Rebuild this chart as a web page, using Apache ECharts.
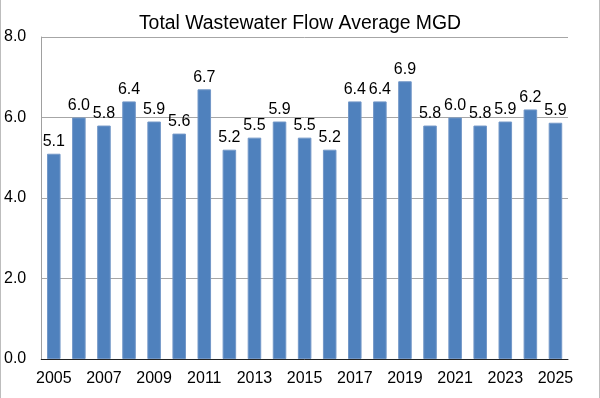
<!DOCTYPE html>
<html>
<head>
<meta charset="utf-8">
<script src="https://cdn.jsdelivr.net/npm/echarts@6/dist/echarts.min.js"></script>
<style>
  html, body { margin: 0; padding: 0; background: #fff; }
  #chart {
    width: 600px;
    height: 398px;
    box-sizing: border-box;
    border-left: 1px solid #bdbdbd;
    border-right: 1px solid #bdbdbd;
  }
</style>
</head>
<body>
<div id="chart"></div>
<script>
// years on the x axis
const years = ["2005", "2006", "2007", "2008", "2009", "2010", "2011", "2012", "2013", "2014",
  "2015", "2016", "2017", "2018", "2019", "2020", "2021", "2022", "2023", "2024", "2025"];
// average flow, MGD
const flowMGD = [5.1, 6.0, 5.8, 6.4, 5.9, 5.6, 6.7, 5.2, 5.5, 5.9,
  5.5, 5.2, 6.4, 6.4, 6.9, 5.8, 6.0, 5.8, 5.9, 6.2, 5.87];

var chartDom = document.getElementById("chart");
var myChart = echarts.init(chartDom);
var font = "Liberation Sans, Arial, sans-serif";

var option = {
  animation: false,
  title: {
    text: "Total Wastewater Flow Average MGD",
    left: "center",
    top: 9,
    textStyle: { fontFamily: font, fontSize: 19.4, fontWeight: "normal", color: "#000" },
  },
  grid: { left: 39, right: 31, top: 37, bottom: 39 },
  xAxis: {
    type: "category",
    data: years,
    axisLine: { lineStyle: { color: "#222", width: 1 } },
    axisTick: { show: false },
    axisLabel: {
      interval: 1,
      margin: 12,
      fontFamily: font,
      fontSize: 16,
      color: "#000",
    },
  },
  yAxis: {
    type: "value",
    min: 0,
    max: 8,
    interval: 2,
    axisLine: { show: true, lineStyle: { color: "#a0a0a0" } },
    axisTick: { show: false },
    splitLine: { lineStyle: { color: "#a6a6a6", width: 1 } },
    axisLabel: {
      margin: 15,
      fontFamily: font,
      fontSize: 16,
      color: "#000",
      formatter: (v) => v.toFixed(1),
    },
  },
  series: [
    {
      type: "bar",
      data: flowMGD,
      barWidth: "54%",
      itemStyle: { color: "#4f81bd", borderColor: "#7398c8", borderWidth: 1 },
      label: {
        show: true,
        position: "top",
        distance: 4,
        fontFamily: font,
        fontSize: 16,
        color: "#000",
        formatter: (p) => p.value.toFixed(1),
      },
    },
  ],
};

option && myChart.setOption(option);
</script>
</body>
</html>
